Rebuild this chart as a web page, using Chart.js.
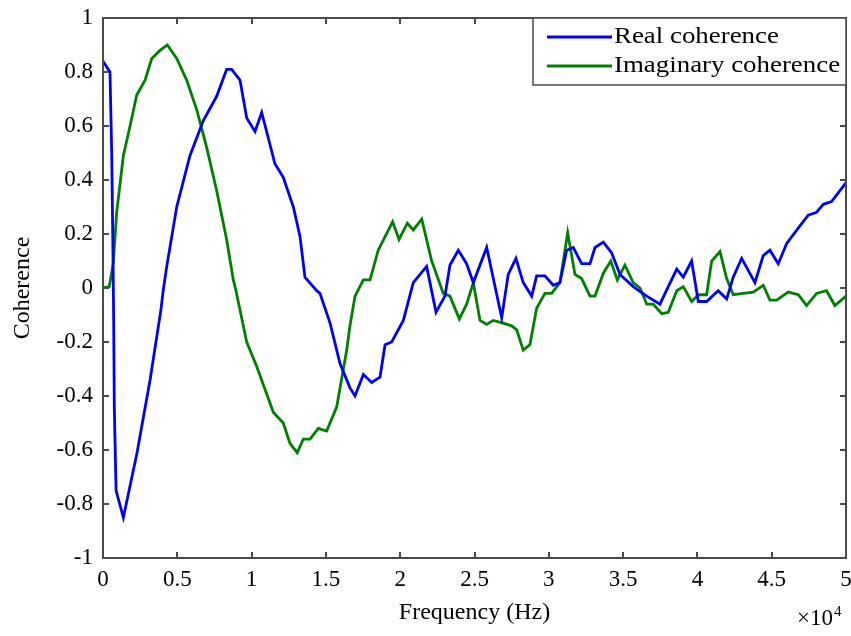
<!DOCTYPE html>
<html>
<head>
<meta charset="utf-8">
<script src="https://cdn.jsdelivr.net/npm/chart.js@4.4.1/dist/chart.umd.min.js"></script>
<style>
  html, body { margin: 0; padding: 0; background: #fff; }
  #wrap { width: 851px; height: 636px; }
</style>
</head>
<body>
<div id="wrap"><canvas id="cohChart" width="851" height="636"></canvas></div>
<script>
// Real coherence (frequency in Hz, value)
const realFreq = [0, 470, 590, 660, 720, 760, 880, 1370, 2290, 3170, 3900, 4050, 4290, 4960, 5850, 6750, 7650, 8320, 8660, 9220,
  9670, 10230, 10680, 11570, 12130, 12810, 13260, 13590, 14380, 14600, 15280, 15950, 16620, 16960, 17520, 18080, 18640, 18980, 19430, 20210,
  20880, 21780, 22410, 23010, 23350, 23910, 24470, 24920, 25820, 26830, 27270, 27790, 28280, 28850, 29180, 29740, 30300, 30750, 31200, 31650,
  32210, 32770, 33110, 33670, 34230, 34790, 35680, 36590, 37480, 38040, 38610, 39050, 39610, 40060, 40620, 41400, 41970, 42410, 42980, 43870,
  44430, 44880, 45440, 46010, 46900, 47460, 48020, 48470, 49030, 50000];
const realVals = [0.84, 0.80, 0.49, 0.18, -0.13, -0.44, -0.75, -0.85, -0.61, -0.34, -0.08, -0.01, 0.08, 0.30, 0.49, 0.62, 0.71, 0.81, 0.81, 0.77,
  0.63, 0.58, 0.65, 0.46, 0.41, 0.30, 0.19, 0.04, -0.01, -0.02, -0.13, -0.28, -0.37, -0.40, -0.32, -0.35, -0.33, -0.21, -0.20, -0.12,
  0.02, 0.08, -0.09, -0.03, 0.085, 0.14, 0.09, 0.02, 0.15, -0.11, 0.05, 0.11, 0.02, -0.03, 0.045, 0.045, 0.01, 0.02, 0.14, 0.15,
  0.09, 0.09, 0.15, 0.17, 0.13, 0.05, 0.005, -0.03, -0.06, 0.005, 0.07, 0.04, 0.10, -0.05, -0.05, -0.01, -0.04, 0.04, 0.11, 0.02,
  0.12, 0.14, 0.09, 0.165, 0.23, 0.27, 0.28, 0.31, 0.32, 0.39];

// Imaginary coherence
const imagFreq = [0, 420, 690, 920, 1370, 1820, 2270, 2830, 3280, 3840, 4330, 4960, 5630, 6310, 6980, 7650, 8320, 8770, 8950, 9670,
  10340, 11460, 12130, 12580, 13070, 13480, 13930, 14490, 15050, 15730, 16400, 16620, 16960, 17520, 17970, 18520, 19490, 19920, 20480, 20880,
  21450, 22120, 22900, 23350, 23980, 24470, 24920, 25370, 25820, 26260, 26940, 27500, 27840, 28280, 28730, 29180, 29740, 30190, 30750, 31270,
  31760, 32210, 32770, 33110, 33670, 34170, 34610, 35120, 35680, 36140, 36590, 37030, 37600, 38040, 38610, 39050, 39610, 40060, 40620, 40960,
  41520, 41970, 42410, 43090, 43760, 44430, 44880, 45330, 46110, 46790, 47350, 48020, 48690, 49250, 50000];
const imagVals = [0.0, 0.005, 0.09, 0.28, 0.49, 0.60, 0.715, 0.77, 0.85, 0.88, 0.90, 0.85, 0.77, 0.66, 0.52, 0.36, 0.18, 0.03, -0.01, -0.20,
  -0.29, -0.46, -0.50, -0.575, -0.61, -0.56, -0.56, -0.52, -0.53, -0.44, -0.23, -0.14, -0.03, 0.03, 0.03, 0.14, 0.245, 0.18, 0.24, 0.215,
  0.255, 0.10, -0.02, -0.03, -0.115, -0.06, 0.02, -0.12, -0.135, -0.12, -0.13, -0.14, -0.155, -0.23, -0.21, -0.075, -0.02, -0.02, 0.02, 0.205,
  0.05, 0.035, -0.03, -0.03, 0.055, 0.10, 0.03, 0.085, 0.02, 0.0, -0.06, -0.06, -0.095, -0.09, -0.01, 0.005, -0.05, -0.025, -0.025, 0.10,
  0.135, 0.035, -0.025, -0.02, -0.015, 0.01, -0.045, -0.045, -0.015, -0.025, -0.065, -0.02, -0.01, -0.065, -0.03];

const seriesLabels = ['Real coherence', 'Imaginary coherence'];
const seriesColors = ['#0000ff', '#008000'];

function toPoints(xs, ys) {
  return xs.map((x, i) => ({ x: x, y: ys[i] }));
}

const serif = "'Liberation Serif', 'Times New Roman', serif";

// no auto padding: the plot box sits where layout.padding + afterFit put it
function pinScale(s, size) {
  if (s.isHorizontal()) s.height = size; else s.width = size;
  s.paddingLeft = 0; s.paddingRight = 0; s.paddingTop = 0; s.paddingBottom = 0;
}

// box frame, inward ticks on all four sides, legend box and the x10^4 exponent
const matlabFrame = {
  id: 'matlabFrame',
  afterDatasetsDraw(chart) {
    const { ctx, chartArea: a, scales } = chart;
    const xs = scales.x, ys = scales.y;
    ctx.save();
    ctx.strokeStyle = '#4a4a4a';
    ctx.lineWidth = 2;
    ctx.strokeRect(a.left, a.top, a.right - a.left, a.bottom - a.top);

    ctx.beginPath();
    xs.ticks.forEach(t => {
      const px = Math.round(xs.getPixelForValue(t.value));
      ctx.moveTo(px, a.bottom); ctx.lineTo(px, a.bottom - 6);
      ctx.moveTo(px, a.top); ctx.lineTo(px, a.top + 6);
    });
    ys.ticks.forEach(t => {
      const py = Math.round(ys.getPixelForValue(t.value));
      ctx.moveTo(a.left, py); ctx.lineTo(a.left + 6, py);
      ctx.moveTo(a.right, py); ctx.lineTo(a.right - 6, py);
    });
    ctx.stroke();

    // legend
    const lx = 533, ly = a.top, lw = a.right - 533, lh = 67;
    ctx.fillStyle = '#fff';
    ctx.fillRect(lx, ly, lw, lh);
    ctx.strokeStyle = '#4a4a4a';
    ctx.lineWidth = 1.5;
    ctx.strokeRect(lx, ly, lw, lh);
    ctx.font = '24px ' + serif;
    ctx.textBaseline = 'middle';
    ctx.textAlign = 'left';
    chart.data.datasets.forEach((ds, i) => {
      const yy = ly + 19 + i * 29;
      ctx.strokeStyle = ds.borderColor;
      ctx.lineWidth = 3;
      ctx.beginPath();
      ctx.moveTo(547, yy); ctx.lineTo(612, yy);
      ctx.stroke();
      ctx.fillStyle = '#000';
      ctx.save();
      ctx.translate(614, yy);
      ctx.scale(1.12, 1);
      ctx.fillText(ds.label, 0, 0);
      ctx.restore();
    });

    // exponent label
    ctx.fillStyle = '#000';
    ctx.font = '23px ' + serif;
    ctx.textAlign = 'left';
    ctx.textBaseline = 'alphabetic';
    ctx.fillText('\u00d710', 797, 625);
    const w = ctx.measureText('\u00d710').width;
    ctx.font = '15px ' + serif;
    ctx.fillText('4', 797 + w + 1, 616);
    ctx.restore();
  }
};

const ctx = document.getElementById('cohChart').getContext('2d');
new Chart(ctx, {
  type: 'line',
  data: {
    datasets: [
      {
        label: seriesLabels[0],
        data: toPoints(realFreq, realVals),
        borderColor: seriesColors[0],
        borderWidth: 2.8,
        pointRadius: 0,
        tension: 0,
        fill: false
      },
      {
        label: seriesLabels[1],
        data: toPoints(imagFreq, imagVals),
        borderColor: seriesColors[1],
        borderWidth: 2.8,
        pointRadius: 0,
        tension: 0,
        fill: false
      }
    ]
  },
  options: {
    responsive: false,
    devicePixelRatio: 1,
    animation: false,
    layout: { padding: { left: 0, top: 18, right: 5, bottom: 0 } },
    plugins: {
      legend: { display: false },
      tooltip: { enabled: false }
    },
    scales: {
      x: {
        type: 'linear',
        min: 0,
        max: 50000,
        grid: { display: false, drawTicks: false },
        border: { display: false },
        afterFit: s => pinScale(s, 78),
        ticks: {
          stepSize: 5000,
          padding: 8,
          color: '#000',
          maxRotation: 0,
          font: { family: serif, size: 23 },
          callback: v => String(Math.round(v / 1000) / 10)
        },
        title: {
          display: true,
          text: 'Frequency (Hz)',
          color: '#000',
          padding: { top: 0, bottom: 9 },
          font: { family: serif, size: 24 }
        }
      },
      y: {
        min: -1,
        max: 1,
        grid: { display: false, drawTicks: false },
        border: { display: false },
        afterFit: s => pinScale(s, 103),
        ticks: {
          stepSize: 0.2,
          padding: 10,
          color: '#000',
          font: { family: serif, size: 23 },
          callback: v => String(Math.round(v * 10) / 10)
        },
        title: {
          display: true,
          text: 'Coherence',
          color: '#000',
          padding: { top: 8, bottom: 0 },
          font: { family: serif, size: 24 }
        }
      }
    }
  },
  plugins: [matlabFrame]
});
</script>
</body>
</html>
